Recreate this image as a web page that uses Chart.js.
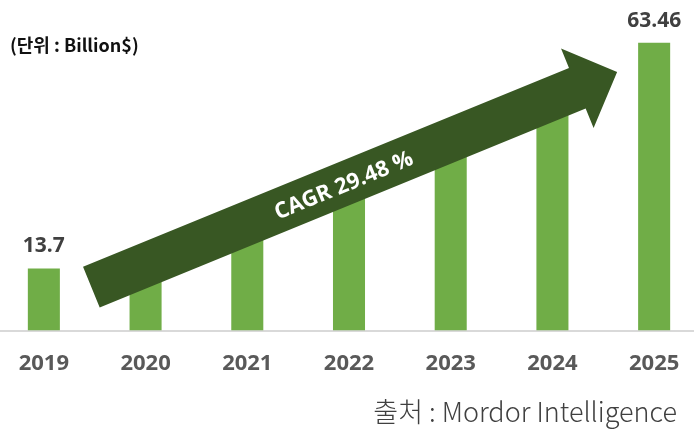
<!DOCTYPE html>
<html>
<head>
<meta charset="utf-8">
<script src="https://cdn.jsdelivr.net/npm/chart.js@4.4.0/dist/chart.umd.min.js"></script>
<style>
  body { margin: 0; width: 694px; height: 434px; overflow: hidden; background: #fff; position: relative; }
  #wrap { position: absolute; left: -7px; top: 0; width: 712px; height: 434px; }
  .unit { position: absolute; left: 10px; top: 33px; font: bold 18px/22px "Noto Sans CJK KR", "Open Sans", sans-serif; color: #111; white-space: nowrap; }
  .source { position: absolute; right: 17px; top: 394px; font: 300 27px/34px "Noto Sans CJK KR", "Open Sans", sans-serif; color: #404040; white-space: nowrap; }
</style>
</head>
<body>
<div id="wrap"><canvas id="chart"></canvas></div>
<div class="unit">(단위 : Billion$)</div>
<div class="source">출처 : Mordor Intelligence</div>
<script>
var years = ["2019", "2020", "2021", "2022", "2023", "2024", "2025"];
var marketSize = [13.7, 17.7, 23.0, 29.7, 38.5, 49.9, 63.46];
var valueLabels = ["13.7", "", "", "", "", "", "63.46"];
var cagrText = "CAGR 29.48 %";

// arrow drawn over the bars, ends given in axis units (category index, value)
var arrowFrom = { x: 0.467, y: 9.6 };
var arrowTo = { x: 5.636, y: 57.0 };

var barLabels = {
  id: "barLabels",
  afterDatasetsDraw: function (chart) {
    var ctx = chart.ctx;
    var meta = chart.getDatasetMeta(0);
    ctx.save();
    ctx.font = "bold 21px 'Open Sans'";
    ctx.fillStyle = "#404040";
    ctx.textAlign = "center";
    ctx.textBaseline = "alphabetic";
    meta.data.forEach(function (bar, i) {
      if (valueLabels[i]) ctx.fillText(valueLabels[i], bar.x, bar.y - 16);
    });
    ctx.restore();
  }
};

var cagrArrow = {
  id: "cagrArrow",
  afterDatasetsDraw: function (chart) {
    var ctx = chart.ctx;
    var xs = chart.scales.x, ys = chart.scales.y;
    var x0 = xs.getPixelForValue(arrowFrom.x), y0 = ys.getPixelForValue(arrowFrom.y);
    var x1 = xs.getPixelForValue(arrowTo.x), y1 = ys.getPixelForValue(arrowTo.y);
    var len = Math.hypot(x1 - x0, y1 - y0);
    var ang = Math.atan2(y1 - y0, x1 - x0);
    var shaft = 22, headW = 43, headL = 43;
    ctx.save();
    ctx.translate(x0, y0);
    ctx.rotate(ang);
    ctx.fillStyle = "#385723";
    ctx.beginPath();
    ctx.moveTo(0, -shaft);
    ctx.lineTo(len - headL, -shaft);
    ctx.lineTo(len - headL, -headW);
    ctx.lineTo(len, 0);
    ctx.lineTo(len - headL, headW);
    ctx.lineTo(len - headL, shaft);
    ctx.lineTo(0, shaft);
    ctx.closePath();
    ctx.fill();
    ctx.fillStyle = "#ffffff";
    ctx.font = "bold 22px 'Open Sans'";
    ctx.textAlign = "center";
    ctx.textBaseline = "middle";
    ctx.fillText(cagrText, 272, 2);
    ctx.restore();
  }
};

new Chart(document.getElementById("chart"), {
  type: "bar",
  data: {
    labels: years,
    datasets: [
      {
        data: marketSize,
        backgroundColor: "#70AD47",
        barPercentage: 0.63,
        categoryPercentage: 0.5
      }
    ]
  },
  options: {
    responsive: true,
    maintainAspectRatio: false,
    animation: false,
    layout: { padding: { top: 13, bottom: 37, left: 0, right: 0 } },
    plugins: {
      legend: { display: false },
      tooltip: { enabled: false }
    },
    scales: {
      x: {
        grid: { display: false, drawTicks: false },
        border: { display: true, color: "#d9d9d9", width: 2 },
        ticks: {
          color: "#595959",
          padding: 20,
          font: { family: "'Open Sans'", size: 22, weight: "bold" }
        }
      },
      y: {
        display: false,
        min: 0,
        max: 70
      }
    }
  },
  plugins: [cagrArrow, barLabels]
});
</script>
</body>
</html>
